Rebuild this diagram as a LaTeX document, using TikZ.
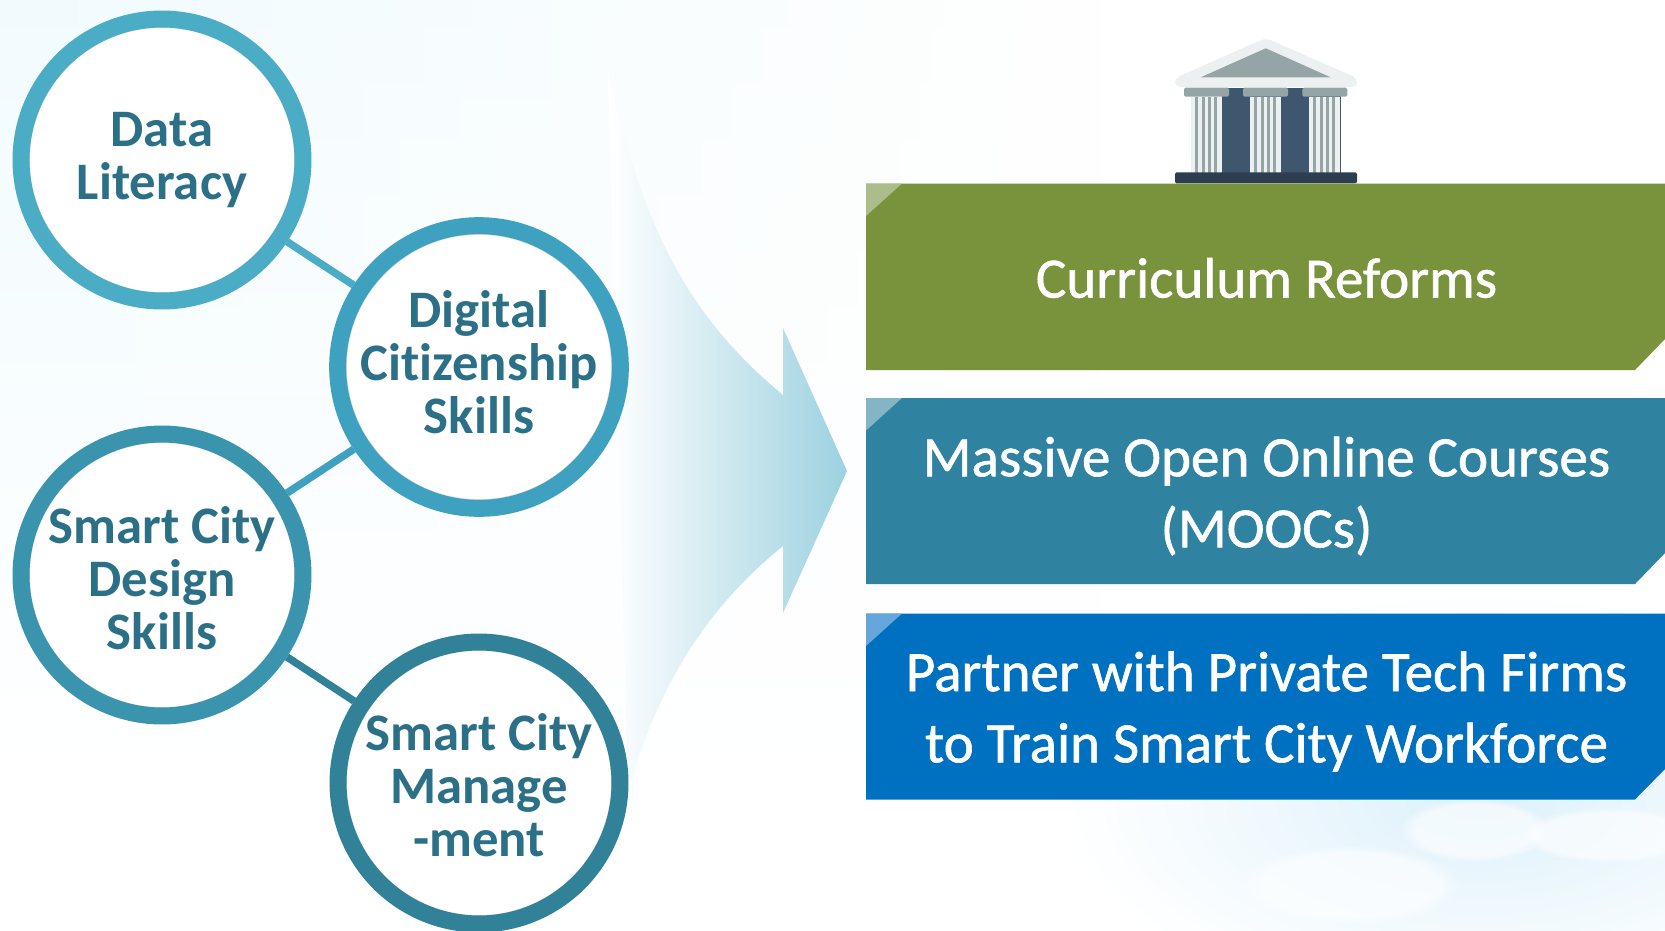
\documentclass[tikz,border=0pt]{standalone}
\usepackage{fontspec}
\setmainfont{Carlito}[Ligatures=NoCommon]
\usetikzlibrary{fadings,calc,backgrounds}

\definecolor{ringa}{HTML}{4BACC6}
\definecolor{ringb}{HTML}{3DA1BF}
\definecolor{ringc}{HTML}{3A94AE}
\definecolor{ringd}{HTML}{318299}
\definecolor{skilltext}{HTML}{2B7087}
\definecolor{skyblue}{HTML}{DDF1FB}
\definecolor{paleblue}{HTML}{F1FBFE}
\definecolor{reformgreen}{HTML}{78933B}
\definecolor{reformlight}{HTML}{ACBC8A}
\definecolor{moocteal}{HTML}{3083A0}
\definecolor{mooclight}{HTML}{84B5C5}
\definecolor{partnerblue}{HTML}{0070C0}
\definecolor{partnerlight}{HTML}{66A6DB}
\definecolor{stone}{HTML}{ECF0F1}
\definecolor{slate}{HTML}{95A5A6}
\definecolor{wall}{HTML}{3F566F}
\definecolor{plinth}{HTML}{2C3E50}

\begin{document}
\begin{tikzpicture}[
    x=0.02cm, y=-0.02cm,
    skill/.style={circle, minimum size=5.64cm, line width=0.34cm, fill=white, inner sep=0pt, align=center,
        font=\fontsize{30}{30.4}\selectfont\bfseries, text=skilltext,
        path picture={\draw[black!14, line width=0.05cm] (path picture bounding box.center) circle (2.67cm);}},
    link/.style={line width=0.15cm},
    cloud/.style={white, fill opacity=0.6, path fading=circle with fuzzy edge 20 percent},
    bannertext/.style={align=center, text=white, font=\fontsize{32.5}{40.5}\selectfont\addfontfeature{FakeBold=1}}
]

\useasboundingbox (0,0) rectangle (1665,930);

% Skill circles
\node[skill, draw=ringa] (literacy) at (162,160) {Data\\Literacy};
\node[skill, draw=ringb] (citizenship) at (479,367) {Digital\\Citizenship\\Skills\par\vspace{5.5pt}};
\node[skill, draw=ringc] (design) at (162,575) {Smart City\\Design\\Skills\par\vspace{-3.6pt}};
\node[skill, draw=ringd] (management) at (479,783) {Smart City\\Manage\\-ment\par\vspace{-2.4pt}};

% Everything that sits behind the circles
\begin{scope}[on background layer]
    % wash on the left, sky and clouds on the right
    \shade[top color=paleblue, middle color=paleblue, bottom color=white] (0,0) rectangle (1100,780);
    \fill[white, path fading=west] (0,0) rectangle (1100,780);
    \shade[inner color=skyblue, outer color=white] (1480,800) ellipse (420 and 210);
    \fill[cloud] (1475,830) ellipse (75 and 32);
    \fill[cloud] (1610,835) ellipse (90 and 28);
    \fill[cloud] (1350,885) ellipse (110 and 40);

    % big arrow
    \shade[left color=white, middle color=ringa!30!white, right color=ringa!55!white]
        (608,70) .. controls (640,215) and (680,310) .. (783,395) -- (783,328) -- (847,471) -- (783,613)
        -- (783,546) .. controls (710,605) and (660,680) .. (628,790) -- cycle;

    % links
    \draw[link, ringa] (literacy) -- (citizenship);
    \draw[link, ringb] (citizenship) -- (design);
    \draw[link, ringd] (design) -- (management);
\end{scope}

% Temple
\fill[stone, rounded corners=0.1cm] (1175,87) -- (1175,78) -- (1265.7,38) -- (1357,78) -- (1357,87) -- cycle;
\fill[slate] (1200.7,77.3) -- (1265.7,48.3) -- (1330.7,77.3) -- cycle;
\fill[wall] (1221.7,87.7) rectangle (1340.7,172.7);
\foreach \col in {1191,1250,1309} {
    \fill[stone] (\col,96.7) rectangle ++(31,76);
    \foreach \off in {4,10.5,17,23}
        \fill[slate] ($(\col,96.7)+(\off,0)$) rectangle ++(3,76);
}
\foreach \col in {1184,1243,1302.3}
    \fill[slate, rounded corners=0.03cm] (\col,87.7) rectangle ++(45,9);
\fill[plinth, rounded corners=0.03cm] (1175,172.3) rectangle (1357,183.3);

% Banners
\fill[reformgreen] (866,183.5) -- (1665,183.5) -- (1665,339) -- (1635,370) -- (866,370) -- cycle;
\fill[reformlight] (866,183.5) -- (902,183.5) -- (866,216) -- cycle;
\node[bannertext] (reforms) at (1266.5,278) {Curriculum Reforms};

\fill[moocteal] (866,398) -- (1665,398) -- (1665,553) -- (1635,584) -- (866,584) -- cycle;
\fill[mooclight] (866,398) -- (902,398) -- (866,430.5) -- cycle;
\node[bannertext] (moocs) at (1266.5,496) {Massive Open Online Courses\\(MOOCs)};

\fill[partnerblue] (866,613.5) -- (1665,613.5) -- (1665,769) -- (1635,799.5) -- (866,799.5) -- cycle;
\fill[partnerlight] (866,613.5) -- (902,613.5) -- (866,646) -- cycle;
\node[bannertext] (partner) at (1266.5,711.5) {Partner with Private Tech Firms\\to Train Smart City Workforce};

\end{tikzpicture}
\end{document}
